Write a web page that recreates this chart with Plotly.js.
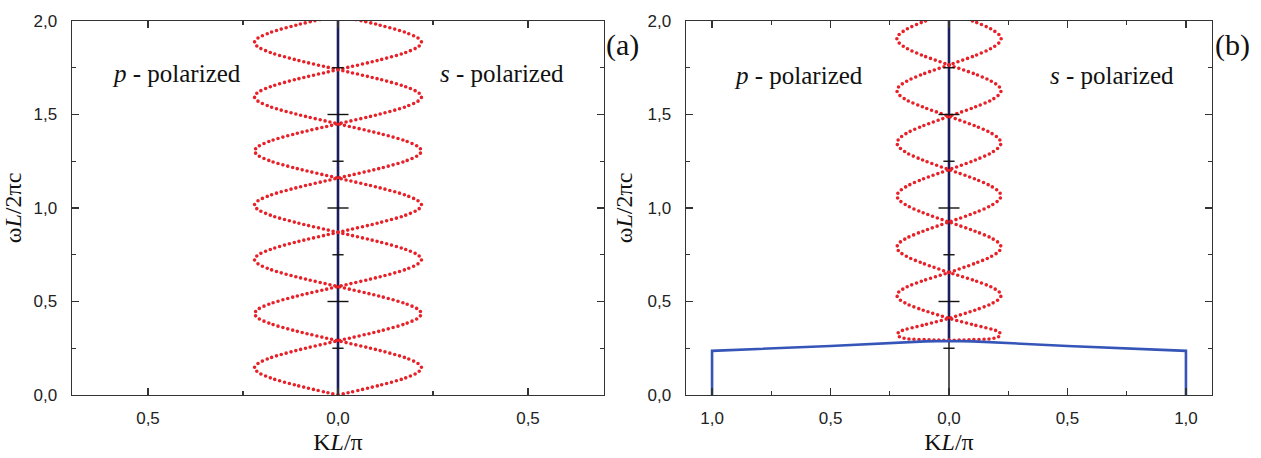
<!DOCTYPE html>
<html>
<head>
<meta charset="utf-8">
<script src="https://cdn.plot.ly/plotly-3.0.1.min.js"></script>
<style>
html,body{margin:0;padding:0;background:#fff;}
#chart{width:1261px;height:458px;}
.js-line{stroke-linecap:round !important;}
</style>
</head>
<body>
<div id="chart"></div>
<script>
// ---- tick labels ----
const yTickVals = [0, 0.5, 1, 1.5, 2];
const yTickText = ['0,0', '0,5', '1,0', '1,5', '2,0'];
const xTickValsA = [-0.5, 0, 0.5];
const xTickTextA = ['0,5', '0,0', '0,5'];
const xTickValsB = [-1, -0.5, 0, 0.5, 1];
const xTickTextB = ['1,0', '0,5', '0,0', '0,5', '1,0'];
const centerTicksMajor = [0.5, 1, 1.5];
const centerTicksMinor = [0.25, 0.75, 1.25, 1.75];

// ---- panel (a): dispersion curves (ωL/2πc vs KL/π) ----
const omegaA = [
  0, 0.052, 0.090, 0.122, 0.145, 0.168, 0.200, 0.238,
  0.29, 0.342, 0.380, 0.412, 0.435, 0.458, 0.490, 0.528,
  0.58, 0.632, 0.670, 0.702, 0.725, 0.748, 0.780, 0.818,
  0.87, 0.922, 0.960, 0.992, 1.015, 1.038, 1.070, 1.108,
  1.16, 1.212, 1.250, 1.282, 1.305, 1.328, 1.360, 1.398,
  1.45, 1.502, 1.540, 1.572, 1.595, 1.618, 1.650, 1.688,
  1.74, 1.792, 1.830, 1.862, 1.885, 1.908, 1.940, 1.978,
  2.03
];
const kA1 = [
  0, 0.11, 0.176, 0.211, 0.22, 0.211, 0.176, 0.11,
  0, -0.11, -0.176, -0.211, -0.22, -0.211, -0.176, -0.11,
  0, 0.11, 0.176, 0.211, 0.22, 0.211, 0.176, 0.11,
  0, -0.11, -0.176, -0.211, -0.22, -0.211, -0.176, -0.11,
  0, 0.11, 0.176, 0.211, 0.22, 0.211, 0.176, 0.11,
  0, -0.11, -0.176, -0.211, -0.22, -0.211, -0.176, -0.11,
  0, 0.11, 0.176, 0.211, 0.22, 0.211, 0.176, 0.11,
  0
];
const kA2 = [
  0, -0.11, -0.176, -0.211, -0.22, -0.211, -0.176, -0.11,
  0, 0.11, 0.176, 0.211, 0.22, 0.211, 0.176, 0.11,
  0, -0.11, -0.176, -0.211, -0.22, -0.211, -0.176, -0.11,
  0, 0.11, 0.176, 0.211, 0.22, 0.211, 0.176, 0.11,
  0, -0.11, -0.176, -0.211, -0.22, -0.211, -0.176, -0.11,
  0, 0.11, 0.176, 0.211, 0.22, 0.211, 0.176, 0.11,
  0, -0.11, -0.176, -0.211, -0.22, -0.211, -0.176, -0.11,
  0
];

// ---- panel (b): dispersion curves ----
const omegaB = [
  0.292, 0.296, 0.300, 0.308, 0.322, 0.338, 0.375,
  0.41, 0.454, 0.486, 0.513, 0.533, 0.552, 0.579, 0.611,
  0.655, 0.704, 0.739, 0.768, 0.790, 0.812, 0.841, 0.876,
  0.925, 0.975, 1.012, 1.043, 1.065, 1.087, 1.118, 1.155,
  1.205, 1.256, 1.293, 1.325, 1.348, 1.370, 1.402, 1.439,
  1.49, 1.540, 1.575, 1.606, 1.628, 1.650, 1.680, 1.716,
  1.765, 1.815, 1.852, 1.883, 1.905, 1.927, 1.958, 1.995,
  2.045
];
const kB1 = [
  0, -0.10, -0.17, -0.205, -0.218, -0.21, -0.105,
  0, 0.11, 0.176, 0.211, 0.22, 0.211, 0.176, 0.11,
  0, -0.11, -0.176, -0.211, -0.22, -0.211, -0.176, -0.11,
  0, 0.11, 0.176, 0.211, 0.22, 0.211, 0.176, 0.11,
  0, -0.11, -0.176, -0.211, -0.22, -0.211, -0.176, -0.11,
  0, 0.11, 0.176, 0.211, 0.22, 0.211, 0.176, 0.11,
  0, -0.11, -0.176, -0.211, -0.22, -0.211, -0.176, -0.11,
  0
];
const kB2 = [
  0, 0.10, 0.17, 0.205, 0.218, 0.21, 0.105,
  0, -0.11, -0.176, -0.211, -0.22, -0.211, -0.176, -0.11,
  0, 0.11, 0.176, 0.211, 0.22, 0.211, 0.176, 0.11,
  0, -0.11, -0.176, -0.211, -0.22, -0.211, -0.176, -0.11,
  0, 0.11, 0.176, 0.211, 0.22, 0.211, 0.176, 0.11,
  0, -0.11, -0.176, -0.211, -0.22, -0.211, -0.176, -0.11,
  0, 0.11, 0.176, 0.211, 0.22, 0.211, 0.176, 0.11,
  0
];

// ---- panel (b): blue surface-mode line ----
const blueK = [-1, -1, -0.5, -0.1, 0, 0.1, 0.5, 1, 1];
const blueOmega = [0, 0.236, 0.262, 0.287, 0.289, 0.287, 0.262, 0.236, 0];

// ---- central vertical lines ----
const centerLineK = [0, 0];
const centerLineAOmega = [0, 2];
const centerLineBUpperOmega = [0.289, 2];
const centerLineBLowerOmega = [0, 0.289];

const RED = 'rgb(232,32,40)';
const NAVY = '#1b1d5e';
const BLUE = '#3556b8';
const redLine = {color: RED, width: 3.6, dash: '0px,5px', shape: 'spline', smoothing: 0.8};
const serif = 'Liberation Serif, Times New Roman, serif';

function ticksTrace(xa, ya, vals, size) {
  return {
    x: vals.map(() => 0), y: vals, xaxis: xa, yaxis: ya, mode: 'markers', type: 'scatter',
    marker: {symbol: 'line-ew-open', size: size, color: '#111', line: {color: '#111', width: 1.4}},
    hoverinfo: 'skip', showlegend: false, cliponaxis: false
  };
}

const traces = [
  // panel a
  {x: centerLineK, y: centerLineAOmega, xaxis: 'x', yaxis: 'y', mode: 'lines', line: {color: NAVY, width: 2.6}, showlegend: false},
  {x: kA1, y: omegaA, xaxis: 'x', yaxis: 'y', mode: 'lines', line: redLine, showlegend: false},
  {x: kA2, y: omegaA, xaxis: 'x', yaxis: 'y', mode: 'lines', line: redLine, showlegend: false},
  ticksTrace('x', 'y', centerTicksMajor, 15),
  ticksTrace('x', 'y', centerTicksMinor, 8),
  // panel b
  {x: centerLineK, y: centerLineBUpperOmega, xaxis: 'x2', yaxis: 'y2', mode: 'lines', line: {color: NAVY, width: 2.6}, showlegend: false},
  {x: centerLineK, y: centerLineBLowerOmega, xaxis: 'x2', yaxis: 'y2', mode: 'lines', line: {color: '#111', width: 1.4}, showlegend: false},
  {x: kB1, y: omegaB, xaxis: 'x2', yaxis: 'y2', mode: 'lines', line: redLine, showlegend: false},
  {x: kB2, y: omegaB, xaxis: 'x2', yaxis: 'y2', mode: 'lines', line: redLine, showlegend: false},
  {x: blueK, y: blueOmega, xaxis: 'x2', yaxis: 'y2', mode: 'lines', line: {color: BLUE, width: 2.6}, showlegend: false},
  ticksTrace('x2', 'y2', centerTicksMajor, 15),
  ticksTrace('x2', 'y2', centerTicksMinor, 8)
];

const tickFont = {family: 'Liberation Sans, Arial, sans-serif', size: 17, color: '#222'};
const titleFont = {family: serif, size: 24, color: '#111'};
const axisCommon = {
  showgrid: false, zeroline: false, showline: true, linecolor: '#333', linewidth: 1.4,
  mirror: 'ticks', ticks: 'inside', ticklen: 7, tickwidth: 1.3, tickcolor: '#333',
  tickfont: tickFont, tickmode: 'array', fixedrange: true
};
const minorY = {tickvals: [0.25, 0.75, 1.25, 1.75], ticks: 'inside', ticklen: 4, tickcolor: '#333', tickwidth: 1.2};

const yDomain = [1 - 395 / 458, 1 - 21 / 458];
const layout = {
  width: 1261, height: 458,
  margin: {l: 0, r: 0, t: 0, b: 0},
  paper_bgcolor: '#fff', plot_bgcolor: '#fff',
  showlegend: false,
  xaxis: Object.assign({}, axisCommon, {
    domain: [72 / 1261, 604 / 1261], range: [-0.7, 0.7], anchor: 'y',
    tickvals: xTickValsA, ticktext: xTickTextA, ticklabelstandoff: 7,
    minor: {tickvals: [-0.25, 0.25], ticks: 'inside', ticklen: 4, tickcolor: '#333', tickwidth: 1.2},
    title: {text: 'K<i>L</i>/π', font: titleFont, standoff: 6}
  }),
  yaxis: Object.assign({}, axisCommon, {
    domain: yDomain, range: [0, 2], anchor: 'x',
    tickvals: yTickVals, ticktext: yTickText, ticklabelstandoff: 10,
    minor: minorY,
    title: {text: 'ω<i>L</i>/2πc', font: titleFont, standoff: 8}
  }),
  xaxis2: Object.assign({}, axisCommon, {
    domain: [686 / 1261, 1212 / 1261], range: [-1.11, 1.11], anchor: 'y2',
    tickvals: xTickValsB, ticktext: xTickTextB, ticklabelstandoff: 7,
    minor: {tickvals: [-0.75, -0.25, 0.25, 0.75], ticks: 'inside', ticklen: 4, tickcolor: '#333', tickwidth: 1.2},
    title: {text: 'K<i>L</i>/π', font: titleFont, standoff: 6}
  }),
  yaxis2: Object.assign({}, axisCommon, {
    domain: yDomain, range: [0, 2], anchor: 'x2',
    tickvals: yTickVals, ticktext: yTickText, ticklabelstandoff: 10,
    minor: minorY,
    title: {text: 'ω<i>L</i>/2πc', font: titleFont, standoff: 8}
  }),
  annotations: [
    {xref: 'x', yref: 'y', x: -0.424, y: 1.72, text: '<i>p</i> - polarized', showarrow: false, xanchor: 'center',
     font: {family: serif, size: 25, color: '#111'}},
    {xref: 'x', yref: 'y', x: 0.432, y: 1.72, text: '<i>s</i> - polarized', showarrow: false, xanchor: 'center',
     font: {family: serif, size: 25, color: '#111'}},
    {xref: 'x2', yref: 'y2', x: -0.637, y: 1.71, text: '<i>p</i> - polarized', showarrow: false, xanchor: 'center',
     font: {family: serif, size: 25, color: '#111'}},
    {xref: 'x2', yref: 'y2', x: 0.69, y: 1.71, text: '<i>s</i> - polarized', showarrow: false, xanchor: 'center',
     font: {family: serif, size: 25, color: '#111'}},
    {xref: 'paper', yref: 'paper', x: 622 / 1261, y: 1 - 45 / 458, text: '(a)', showarrow: false,
     xanchor: 'center', yanchor: 'middle', font: {family: serif, size: 30, color: '#111'}},
    {xref: 'paper', yref: 'paper', x: 1232 / 1261, y: 1 - 45 / 458, text: '(b)', showarrow: false,
     xanchor: 'center', yanchor: 'middle', font: {family: serif, size: 30, color: '#111'}}
  ]
};

Plotly.newPlot('chart', traces, layout, {staticPlot: true, displayModeBar: false});
</script>
</body>
</html>
